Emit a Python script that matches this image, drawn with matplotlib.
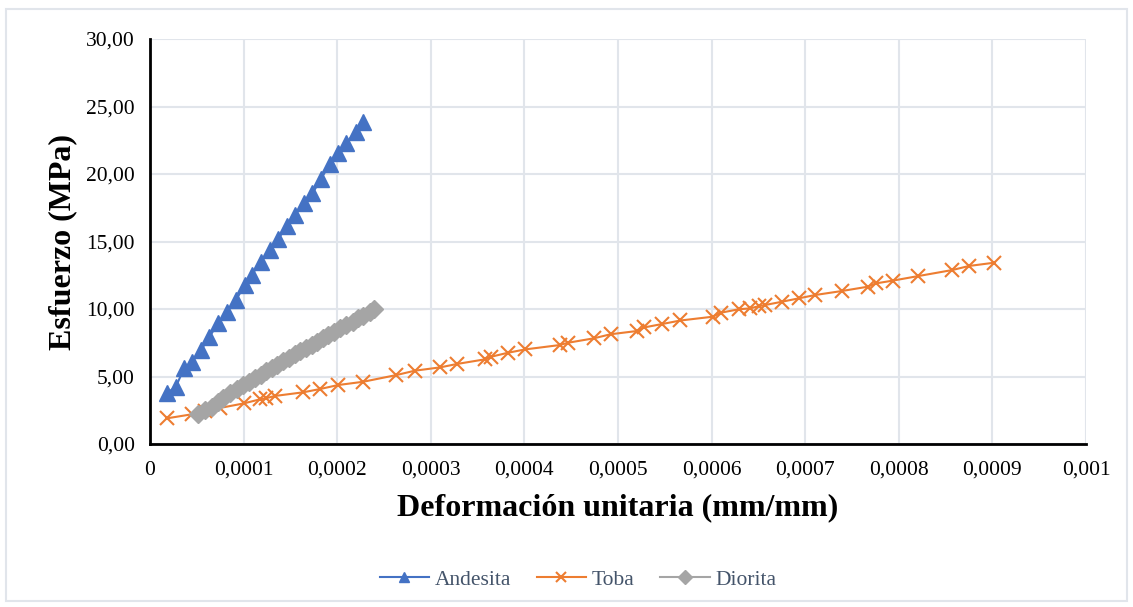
import matplotlib.pyplot as plt
from matplotlib.patches import Rectangle

plt.rcParams['font.family'] = ['Liberation Serif', 'DejaVu Serif']

# Andesita
and_x = [0.0000178, 0.0000277, 0.0000363, 0.0000451, 0.0000544, 0.0000633, 0.0000729, 0.0000825,
         0.0000918, 0.0001014, 0.0001085, 0.0001185, 0.0001281, 0.0001369, 0.0001459, 0.0001547,
         0.0001644, 0.0001736, 0.0001825, 0.0001921, 0.0002010, 0.0002099, 0.0002198, 0.0002276]
and_y = [3.76, 4.25, 5.61, 6.10, 6.96, 7.90, 8.99, 9.80,
         10.67, 11.78, 12.52, 13.50, 14.37, 15.16, 16.15, 16.96,
         17.83, 18.57, 19.61, 20.74, 21.53, 22.32, 23.13, 23.87]

# Toba
toba_x = [0.0000178, 0.0000445, 0.0000587, 0.0000747, 0.0001003, 0.0001174, 0.0001238, 0.0001334,
          0.0001636, 0.0001814, 0.0002010, 0.0002276, 0.0002633, 0.0002828, 0.0003102, 0.0003280,
          0.0003575, 0.0003647, 0.0003824, 0.0004010, 0.0004376, 0.0004464, 0.0004742, 0.0004920,
          0.0005201, 0.0005283, 0.0005472, 0.0005667, 0.0006012, 0.0006101, 0.0006289, 0.0006411,
          0.0006510, 0.0006574, 0.0006752, 0.0006930, 0.0007108, 0.0007388, 0.0007666, 0.0007756,
          0.0007933, 0.0008207, 0.0008573, 0.0008751, 0.0009018]
toba_y = [1.90, 2.20, 2.44, 2.67, 3.01, 3.31, 3.39, 3.56,
          3.83, 4.07, 4.37, 4.61, 5.11, 5.43, 5.68, 5.93,
          6.27, 6.47, 6.76, 7.01, 7.33, 7.50, 7.83, 8.13,
          8.37, 8.64, 8.89, 9.15, 9.43, 9.73, 9.98, 10.05,
          10.22, 10.30, 10.54, 10.79, 11.04, 11.33, 11.65, 11.90,
          12.10, 12.44, 12.89, 13.19, 13.43]

# Diorita
dio_x = [0.0000515, 0.0000587, 0.0000658, 0.0000729, 0.0000782, 0.0000854, 0.0000925, 0.0000996,
         0.0001060, 0.0001121, 0.0001181, 0.0001238, 0.0001299, 0.0001359, 0.0001423, 0.0001487,
         0.0001548, 0.0001601, 0.0001665, 0.0001726, 0.0001779, 0.0001843, 0.0001903, 0.0001964,
         0.0002028, 0.0002099, 0.0002170, 0.0002223, 0.0002276, 0.0002348, 0.0002394]
dio_y = [2.20, 2.52, 2.76, 3.13, 3.43, 3.76, 4.05, 4.37,
         4.61, 4.87, 5.11, 5.41, 5.61, 5.85, 6.15, 6.39,
         6.64, 6.89, 7.09, 7.33, 7.58, 7.87, 8.07, 8.32,
         8.57, 8.81, 9.06, 9.31, 9.50, 9.76, 10.00]

x_ticks = [0, 0.0001, 0.0002, 0.0003, 0.0004, 0.0005, 0.0006, 0.0007, 0.0008, 0.0009, 0.001]
x_labels = ["0", "0,0001", "0,0002", "0,0003", "0,0004", "0,0005", "0,0006", "0,0007", "0,0008", "0,0009", "0,001"]
y_ticks = [0, 5, 10, 15, 20, 25, 30]
y_labels = ["0,00", "5,00", "10,00", "15,00", "20,00", "25,00", "30,00"]

fig = plt.figure(figsize=(11.33, 6.07), dpi=100)
ax = fig.add_axes([0.1324, 0.2685, 0.8261, 0.6672])

ax.plot(and_x, and_y, color='#4472C4', marker='^', markersize=11, linewidth=1.5, label='Andesita')
ax.plot(toba_x, toba_y, color='#ED7D31', marker='x', markersize=9.5, markeredgewidth=1.5, linewidth=1.5, label='Toba')
ax.plot(dio_x, dio_y, color='#A5A5A5', marker='D', markersize=9.5, linewidth=1.5, label='Diorita')

ax.set_xlim(0, 0.001)
ax.set_ylim(0, 30)
ax.set_xticks(x_ticks)
ax.set_xticklabels(x_labels)
ax.set_yticks(y_ticks)
ax.set_yticklabels(y_labels)
ax.tick_params(length=0, labelsize=15.5, colors='black')
ax.tick_params(axis='x', pad=12)
ax.tick_params(axis='y', pad=11)
ax.grid(True, color='#E1E5EB', linewidth=1.5)
ax.set_axisbelow(True)
for s in ['top', 'right']:
    ax.spines[s].set_visible(False)
for s in ['left', 'bottom']:
    ax.spines[s].set_linewidth(2)
    ax.spines[s].set_color('black')

ax.set_xlabel('Deformación unitaria (mm/mm)', fontsize=23, fontweight='bold', labelpad=10)
ax.set_ylabel('Esfuerzo (MPa)', fontsize=23, fontweight='bold', labelpad=6)

# leyenda centrada respecto a la figura, no al eje
leg = ax.legend(loc='center', bbox_to_anchor=(0.457, -0.335), ncol=3, frameon=False,
                fontsize=15.5, handlelength=2.3, columnspacing=1.2, handletextpad=0.25,
                markerscale=0.7)
for t in leg.get_texts():
    t.set_color('#44546A')

fig.patches.append(Rectangle((0.005, 0.01), 0.99, 0.975, transform=fig.transFigure,
                             fill=False, edgecolor='#E1E5EB', linewidth=1.5))

fig.savefig('out.png', dpi=100)
